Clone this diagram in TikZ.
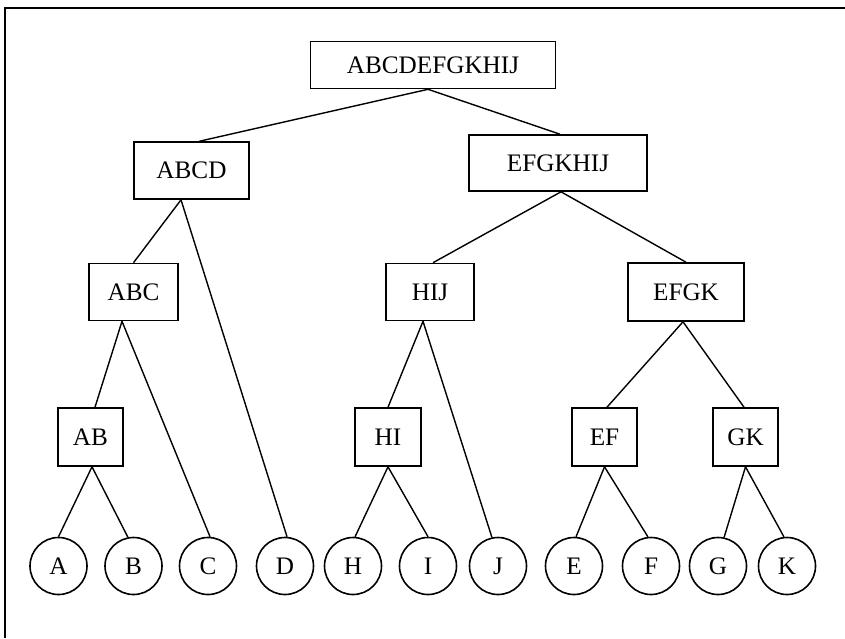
\documentclass[tikz,border=0pt]{standalone}
\usepackage{fontspec}
\setmainfont{Liberation Serif}
\usepackage{tikz}
\usetikzlibrary{positioning,calc}

\begin{document}
\begin{tikzpicture}[
  x=0.5pt,y=-0.5pt,
  link/.style={
    line width=0.7pt,
    draw=black
  },
  cluster/.style={
    rectangle,
    line width=0.8pt,
    draw=black,
    fill=white,
    inner sep=0pt,
    minimum height=28.5pt,
    font=\fontsize{12.6}{15}\selectfont
  },
  leaf/.style={
    circle,
    line width=0.8pt,
    draw=black,
    fill=white,
    inner sep=0pt,
    minimum size=28.5pt,
    font=\fontsize{12.6}{15}\selectfont
  }
]
\useasboundingbox (0,0) rectangle (845,638);

% -------------------------------------------------
% Frame
% -------------------------------------------------
\draw[line width=1pt] (4.5,638) -- (4.5,7.5) -- (845,7.5);

% -------------------------------------------------
% Cluster boxes
% -------------------------------------------------
\node[cluster, minimum width=122.5pt, minimum height=23.5pt] (root) at (433,65) {ABCDEFGKHIJ};

\node[cluster, minimum width=57.5pt] (abcd) at (191.5,170.5) {ABCD};
\node[cluster, minimum width=89pt, minimum height=28pt] (efgkhij) at (558,163) {EFGKHIJ};

\node[cluster, minimum width=44.5pt] (abc) at (133.5,292) {ABC};
\node[cluster, minimum width=44pt] (hij) at (430,292) {HIJ};
\node[cluster, minimum width=58pt, minimum height=29pt] (efgk) at (686,292) {EFGK};

\node[cluster, minimum width=32.5pt, minimum height=29pt] (ab) at (90.5,437) {AB};
\node[cluster, minimum width=33pt, minimum height=29pt] (hi) at (388,437) {HI};
\node[cluster, minimum width=32.5pt, minimum height=29pt] (ef) at (604.5,437) {EF};
\node[cluster, minimum width=32.5pt, minimum height=29pt] (gk) at (745.5,437) {GK};

% -------------------------------------------------
% Leaves
% -------------------------------------------------
\node[leaf] (a) at (58.5,566) {A};
\node[leaf] (b) at (133.5,566) {B};
\node[leaf] (c) at (208,566) {C};
\node[leaf] (d) at (285,566) {D};
\node[leaf] (h) at (353,566) {H};
\node[leaf] (i) at (428,566) {I};
\node[leaf] (j) at (498,566) {J};
\node[leaf] (e) at (574,566) {E};
\node[leaf] (f) at (651,566) {F};
\node[leaf] (g) at (718,566) {G};
\node[leaf] (k) at (787,566) {K};

% -------------------------------------------------
% Links
% -------------------------------------------------
\draw[link] ([xshift=-2.5pt]root.south) -- ([xshift=4pt]abcd.north);
\draw[link] ([xshift=-2.5pt]root.south) -- ([xshift=1pt]efgkhij.north);

\draw[link] ([xshift=-5.25pt]abcd.south) -- (abc.north);
\draw[link] ([xshift=-5.25pt]abcd.south) -- (d.86);

\draw[link] ([xshift=-5.75pt]abc.south) -- ([xshift=2.25pt]ab.north);
\draw[link] ([xshift=-5.75pt]abc.south) -- (c.86);

\draw[link] ([xshift=0.75pt]ab.south) -- (a.north);
\draw[link] ([xshift=0.75pt]ab.south) -- (b.101);

\draw[link] ([xshift=1.5pt]efgkhij.south) -- ([xshift=1.5pt]hij.north);
\draw[link] ([xshift=1.5pt]efgkhij.south) -- (efgk.north);

\draw[link] ([xshift=-3.5pt]hij.south) -- (hi.north);
\draw[link] ([xshift=-3.5pt]hij.south) -- (j.102);

\draw[link] (hi.south) -- (h.86);
\draw[link] (hi.south) -- (i.north);

\draw[link] ([xshift=-1.5pt]efgk.south) -- ([xshift=1.25pt]ef.north);
\draw[link] ([xshift=-1.5pt]efgk.south) -- ([xshift=-0.75pt]gk.north);

\draw[link] (ef.south) -- (e.86);
\draw[link] (ef.south) -- (f.96);

\draw[link] (gk.south) -- (g.78);
\draw[link] (gk.south) -- (k.96);

\end{tikzpicture}
\end{document}
